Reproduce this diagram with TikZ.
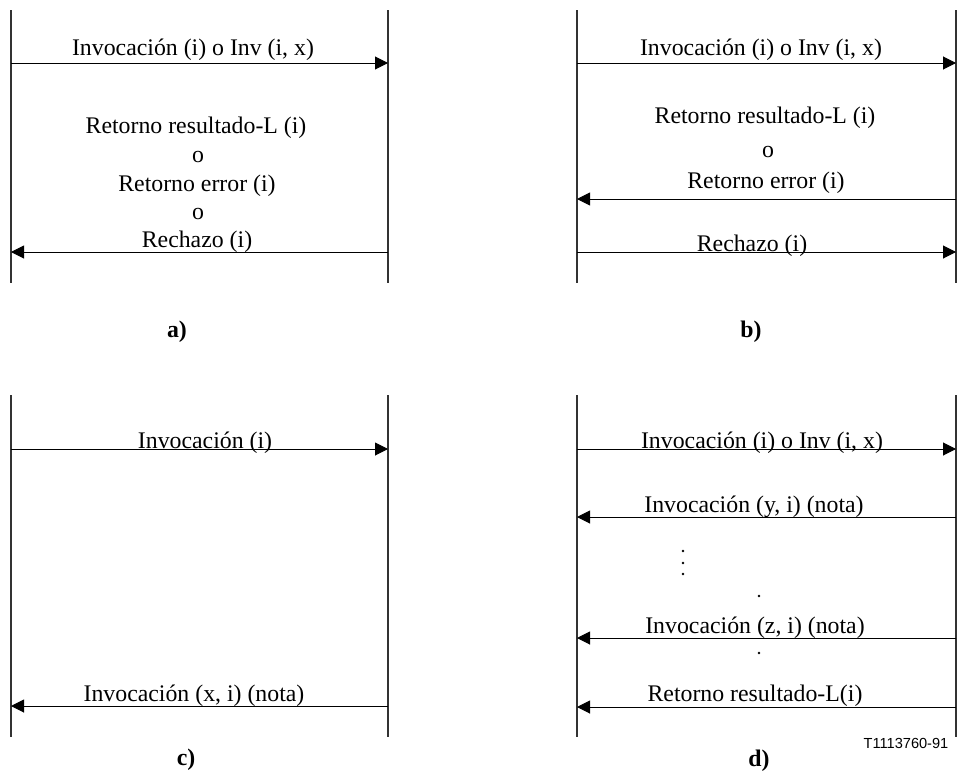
\documentclass[tikz,border=0pt]{standalone}
\usepackage{fontspec}
\setmainfont{Liberation Serif}
\newfontfamily\figfont{Liberation Sans}
\usetikzlibrary{arrows.meta}
\begin{document}
\begin{tikzpicture}[x=1pt,y=-1pt,
  lifeline/.style={line width=1.4pt, draw=black!80},
  msg/.style={line width=1pt, -{Triangle[length=13pt,width=13pt]}},
  lbl/.style={anchor=base, inner sep=0pt, font=\fontsize{23.8}{28}\selectfont},
  tag/.style={anchor=base, inner sep=0pt, font=\fontsize{23.8}{28}\selectfont\bfseries},
  figno/.style={anchor=base, inner sep=0pt, font=\figfont\fontsize{14.6}{17}\selectfont},
  dotmark/.style={circle, fill, inner sep=0pt, minimum size=2.8pt}]
\useasboundingbox (0,0) rectangle (958,771);

% ---------- a) ----------
\coordinate (aLt) at (11,10);  \coordinate (aLb) at (11,283);
\coordinate (aRt) at (388,10); \coordinate (aRb) at (388,283);
\draw[lifeline] (aLt) -- (aLb);
\draw[lifeline] (aRt) -- (aRb);
\coordinate (a1s) at (11,63);   \coordinate (a1e) at (388,63);
\coordinate (a2s) at (388,252); \coordinate (a2e) at (11,252);
\draw[msg] (a1s) -- (a1e);
\draw[msg] (a2s) -- (a2e);
\node[lbl] (aT1) at (193,55)  {Invocación (i) o Inv (i, x)};
\node[lbl] (aT2) at (196,133) {Retorno resultado-L (i)};
\node[lbl] (aT3) at (198,162) {o};
\node[lbl] (aT4) at (197,191) {Retorno error (i)};
\node[lbl] (aT5) at (198,219) {o};
\node[lbl] (aT6) at (197,247) {Rechazo (i)};
\node[tag] (aTag) at (177,337) {a)};

% ---------- b) ----------
\coordinate (bLt) at (577,10);  \coordinate (bLb) at (577,283);
\coordinate (bRt) at (956,10);  \coordinate (bRb) at (956,283);
\draw[lifeline] (bLt) -- (bLb);
\draw[lifeline] (bRt) -- (bRb);
\coordinate (b1s) at (577,63);  \coordinate (b1e) at (956,63);
\coordinate (b2s) at (956,199); \coordinate (b2e) at (577,199);
\coordinate (b3s) at (577,252); \coordinate (b3e) at (956,252);
\draw[msg] (b1s) -- (b1e);
\draw[msg] (b2s) -- (b2e);
\draw[msg] (b3s) -- (b3e);
\node[lbl] (bT1) at (761,55)  {Invocación (i) o Inv (i, x)};
\node[lbl] (bT2) at (765,123) {Retorno resultado-L (i)};
\node[lbl] (bT3) at (768,157) {o};
\node[lbl] (bT4) at (766,188) {Retorno error (i)};
\node[lbl] (bT5) at (752,251) {Rechazo (i)};
\node[tag] (bTag) at (751,337) {b)};

% ---------- c) ----------
\coordinate (cLt) at (11,395);  \coordinate (cLb) at (11,737);
\coordinate (cRt) at (388,395); \coordinate (cRb) at (388,737);
\draw[lifeline] (cLt) -- (cLb);
\draw[lifeline] (cRt) -- (cRb);
\coordinate (c1s) at (11,449);  \coordinate (c1e) at (388,449);
\coordinate (c2s) at (388,706); \coordinate (c2e) at (11,706);
\draw[msg] (c1s) -- (c1e);
\draw[msg] (c2s) -- (c2e);
\node[lbl] (cT1) at (205,448) {Invocación (i)};
\node[lbl] (cT2) at (194,701) {Invocación (x, i) (nota)};
\node[tag] (cTag) at (186,765) {c)};

% ---------- d) ----------
\coordinate (dLt) at (577,395); \coordinate (dLb) at (577,737);
\coordinate (dRt) at (956,395); \coordinate (dRb) at (956,737);
\draw[lifeline] (dLt) -- (dLb);
\draw[lifeline] (dRt) -- (dRb);
\coordinate (d1s) at (577,449); \coordinate (d1e) at (956,449);
\coordinate (d2s) at (956,517); \coordinate (d2e) at (577,517);
\coordinate (d3s) at (956,638); \coordinate (d3e) at (577,638);
\coordinate (d4s) at (956,707); \coordinate (d4e) at (577,707);
\draw[msg] (d1s) -- (d1e);
\draw[msg] (d2s) -- (d2e);
\draw[msg] (d3s) -- (d3e);
\draw[msg] (d4s) -- (d4e);
\node[lbl] (dT1) at (762,448) {Invocación (i) o Inv (i, x)};
\node[lbl] (dT2) at (754,512) {Invocación (y, i) (nota)};
\node[lbl] (dT3) at (755,633) {Invocación (z, i) (nota)};
\node[lbl] (dT4) at (755,701) {Retorno resultado-L(i)};
\node[dotmark] (dd1) at (683,551) {};
\node[dotmark] (dd2) at (683,563) {};
\node[dotmark] (dd3) at (683,574) {};
\node[dotmark] (dd4) at (759,596) {};
\node[dotmark] (dd5) at (759,653) {};
\node[tag] (dTag) at (759,766) {d)};
\node[figno] (fig) at (906,748) {T1113760-91};
\end{tikzpicture}
\end{document}
